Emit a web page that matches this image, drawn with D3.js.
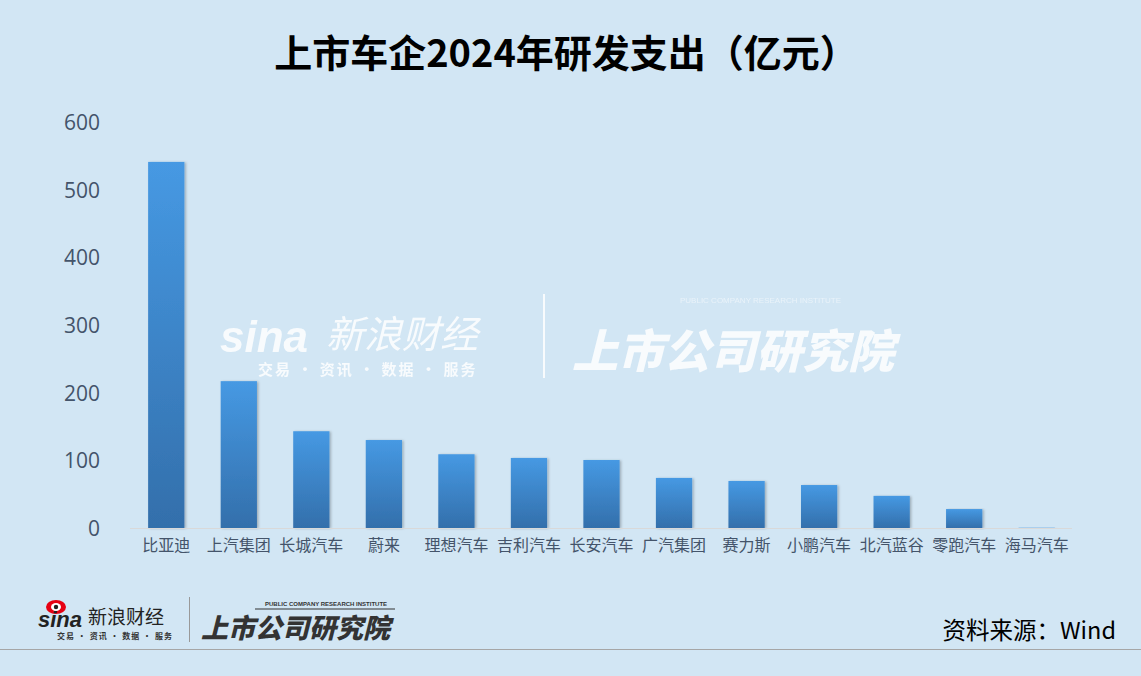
<!DOCTYPE html>
<html><head><meta charset="utf-8">
<script src="https://cdn.jsdelivr.net/npm/d3@7"></script>
<style>
html,body{margin:0;padding:0;background:#d2e6f4;}
svg{display:block;}
</style></head>
<body>
<svg id="chart" width="1141" height="676"></svg>
<script>
const categories = ["比亚迪","上汽集团","长城汽车","蔚来","理想汽车","吉利汽车","长安汽车","广汽集团","赛力斯","小鹏汽车","北汽蓝谷","零跑汽车","海马汽车"];
const values = [541, 217, 143, 130, 109, 103.5, 100.5, 74, 69.5, 63.5, 47.5, 28, 0.4];
const yTicks = [0, 100, 200, 300, 400, 500, 600];
const title = "上市车企2024年研发支出（亿元）";
const source = "资料来源：Wind";

const svg = d3.select("#chart");
const W = 1141, H = 676;
svg.append("rect").attr("width", W).attr("height", H).attr("fill", "#d2e6f4");

const defs = svg.append("defs");
const grad = defs.append("linearGradient").attr("id","barGrad").attr("x1",0).attr("y1",0).attr("x2",0).attr("y2",1);
grad.append("stop").attr("offset","0%").attr("stop-color","#4699e3");
grad.append("stop").attr("offset","100%").attr("stop-color","#336fab");
const flt = defs.append("filter").attr("id","shadow").attr("x","-20%").attr("y","-5%").attr("width","150%").attr("height","115%");
flt.append("feDropShadow").attr("dx",1.5).attr("dy",0.5).attr("stdDeviation",1.2).attr("flood-color","#000").attr("flood-opacity",0.25);

const x = d3.scaleBand().domain(categories).range([130, 1073]).paddingInner(0.5).paddingOuter(0.25);
const y = d3.scaleLinear().domain([0, 600]).range([528, 122]);

// watermark
const wm = svg.append("g").attr("opacity", 0.85).attr("fill", "#ffffff");
wm.append("text").attr("x", 220).attr("y", 352).attr("font-family","Arial, sans-serif").attr("font-style","italic").attr("font-weight","bold").attr("font-size",44).text("sina");
wm.append("text").attr("x", 326).attr("y", 348).attr("font-family","'Noto Sans CJK SC'").attr("font-size",38).attr("font-style","italic").text("新浪财经");
wm.append("text").attr("x", 258).attr("y", 375).attr("font-family","'Noto Sans CJK SC'").attr("font-size",15).attr("font-weight","bold").attr("letter-spacing",2).text("交易 · 资讯 · 数据 · 服务");
wm.append("rect").attr("x", 543).attr("y", 294).attr("width", 2).attr("height", 84);
wm.append("text").attr("x", 572).attr("y", 368).attr("font-family","'Noto Sans CJK SC'").attr("font-weight","900").attr("font-style","italic").attr("font-size",46).text("上市公司研究院");
wm.append("text").attr("x", 680).attr("y", 303).attr("font-family","Arial").attr("font-size",8).attr("opacity",0.6).text("PUBLIC COMPANY RESEARCH INSTITUTE");

// title
svg.append("text").attr("x", 566).attr("y", 67).attr("text-anchor","middle")
  .attr("font-family","'Noto Sans CJK SC', sans-serif").attr("font-weight","bold").attr("font-size",38).attr("fill","#000").text(title);

// y axis
const yAxis = d3.axisLeft(y).tickValues(yTicks).tickSize(0).tickPadding(0);
const gy = svg.append("g").attr("transform","translate(100,0)").call(yAxis);
gy.select(".domain").remove();
gy.selectAll("text").attr("font-family","'Open Sans', 'Noto Sans', sans-serif").attr("font-size",21).attr("fill","#44546a").attr("dy","0.35em");

// bars
svg.append("g").selectAll("rect").data(categories).join("rect")
  .attr("x", d => x(d)).attr("width", x.bandwidth())
  .attr("y", (d,i) => y(values[i])).attr("height", (d,i) => y(0) - y(values[i]))
  .attr("fill","url(#barGrad)").attr("filter","url(#shadow)");

// baseline
svg.append("line").attr("x1",130).attr("x2",1072).attr("y1",y(0)+0.5).attr("y2",y(0)+0.5).attr("stroke","#d9d9d9").attr("stroke-width",1);

// x axis labels
const xAxis = d3.axisBottom(x).tickSize(0).tickPadding(0);
const gx = svg.append("g").attr("transform",`translate(0,${y(0)})`).call(xAxis);
gx.select(".domain").remove();
gx.selectAll("text").attr("font-family","'Noto Sans CJK SC', sans-serif").attr("font-size",16).attr("fill","#44546a").attr("dy","1.45em");

// bottom logos
const lg = svg.append("g");
const eye = lg.append("g").attr("transform","translate(56,607)");
eye.append("ellipse").attr("rx",10).attr("ry",7).attr("fill","#e60012");
eye.append("ellipse").attr("rx",5).attr("ry",4).attr("fill","#fff");
eye.append("circle").attr("r",2.2).attr("fill","#222");
lg.append("text").attr("x", 38).attr("y", 627).attr("font-family","Arial, sans-serif").attr("font-style","italic").attr("font-weight","bold").attr("font-size",22).attr("fill","#222").text("sina");
lg.append("text").attr("x", 88).attr("y", 624).attr("font-family","'Noto Sans CJK SC'").attr("font-size",19).attr("fill","#222").text("新浪财经");
lg.append("text").attr("x", 57).attr("y", 639).attr("font-family","'Noto Sans CJK SC'").attr("font-size",8).attr("font-weight","bold").attr("fill","#333").attr("letter-spacing",1).text("交易 · 资讯 · 数据 · 服务");
lg.append("rect").attr("x", 189).attr("y", 597).attr("width", 1).attr("height", 45).attr("fill","#999");
lg.append("text").attr("x", 201).attr("y", 638).attr("font-family","'Noto Sans CJK SC'").attr("font-weight","900").attr("font-style","italic").attr("font-size",27).attr("fill","#333").text("上市公司研究院");
lg.append("text").attr("x", 265).attr("y", 606).attr("font-family","Arial").attr("font-weight","bold").attr("font-size",6).attr("fill","#333").text("PUBLIC COMPANY RESEARCH INSTITUTE");
lg.append("line").attr("x1",255).attr("x2",395).attr("y1",609).attr("y2",609).attr("stroke","#333").attr("stroke-width",1);

// source
svg.append("text").attr("x", 1116).attr("y", 639).attr("text-anchor","end")
  .attr("font-family","'Noto Sans CJK SC', sans-serif").attr("font-size",23.5).attr("fill","#000").text(source);

// bottom rule
svg.append("line").attr("x1",0).attr("x2",W).attr("y1",649.5).attr("y2",649.5).attr("stroke","#a6a6a6").attr("stroke-width",1);
</script>
</body></html>
